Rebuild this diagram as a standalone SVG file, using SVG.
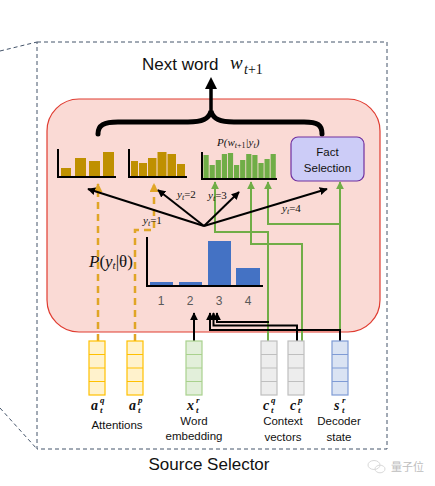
<svg xmlns="http://www.w3.org/2000/svg" width="435" height="486" viewBox="0 0 435 486">
<style>
.sans{font-family:"Liberation Sans","DejaVu Sans",sans-serif;}
.serif{font-family:"Liberation Serif","DejaVu Serif",serif;}
.mi{font-family:"Liberation Serif","DejaVu Serif",serif;font-style:italic;}
.mb{font-family:"Liberation Serif","DejaVu Serif",serif;font-style:italic;font-weight:bold;fill:#111;}
.lbl{font-family:"Liberation Sans","DejaVu Sans",sans-serif;font-size:11.5px;fill:#111;text-anchor:middle;}
.gold{fill:#BF9000;}
.green{fill:#70AD47;}
.blue{fill:#4472C4;}
.axis{stroke:#000;stroke-width:2;fill:none;}
.blk{stroke:#000;stroke-width:2;fill:none;}
.grn{stroke:#70AD47;stroke-width:2;fill:none;}
.gdash{stroke:#E0A526;stroke-width:2.5;fill:none;stroke-dasharray:7 5;}
.vecA{fill:#FFF2CC;stroke:#FFC000;stroke-width:1.2;}
.vecX{fill:#E2EFDA;stroke:#A9D18E;stroke-width:1.2;}
.vecC{fill:#EDEDED;stroke:#BFBFBF;stroke-width:1.2;}
.vecS{fill:#DAE3F3;stroke:#7F9BD5;stroke-width:1.2;}
</style>
<defs>
<marker id="ab" viewBox="0 0 10 10" refX="9" refY="5" markerWidth="8" markerHeight="8" markerUnits="userSpaceOnUse" orient="auto"><path d="M0,0 L10,5 L0,10 z" fill="#000"/></marker>
<marker id="ag" viewBox="0 0 10 10" refX="9" refY="5" markerWidth="8" markerHeight="8" markerUnits="userSpaceOnUse" orient="auto"><path d="M0,0 L10,5 L0,10 z" fill="#70AD47"/></marker>
<marker id="ay" viewBox="0 0 10 10" refX="9" refY="5" markerWidth="9" markerHeight="9" markerUnits="userSpaceOnUse" orient="auto"><path d="M0,0 L10,5 L0,10 z" fill="#E0A526"/></marker>
<g id="vec"><rect x="0" y="0" width="16" height="54"/><path d="M0,13.5 H16 M0,27 H16 M0,40.5 H16" fill="none"/></g>
</defs>

<!-- outer dashed frame -->
<g id="frame" fill="none" stroke="#44546A" stroke-width="1" stroke-dasharray="4 3">
<rect x="37" y="42" width="350" height="407"/>
<line x1="0" y1="51" x2="37" y2="42"/>
<line x1="0" y1="408" x2="37" y2="449"/>
</g>
<text class="sans" x="209" y="470" font-size="17" text-anchor="middle" fill="#111">Source Selector</text>

<!-- pink region -->
<g id="region"><rect x="47" y="99" width="333" height="233" rx="32" fill="#FADAD5" stroke="#E03C31" stroke-width="1.2"/></g>

<!-- next word -->
<g id="next-word">
<text class="sans" x="142" y="70" font-size="17" fill="#111">Next word</text>
<text class="mi" x="230" y="69" font-size="19" fill="#111">w</text>
<text class="serif" x="244" y="74" font-size="14" fill="#111"><tspan font-style="italic">t</tspan>+1</text>
</g>

<!-- brace and arrow -->
<g id="brace">
<path d="M98,134 C98,125 104,122 118,122 L188,122 C202,122 209,119 211,111 C213,119 220,122 234,122 L304,122 C318,122 322,125 322,134" fill="none" stroke="#000" stroke-width="5" stroke-linecap="round"/>
<line x1="211" y1="112" x2="211" y2="87" stroke="#000" stroke-width="3.5"/>
<polygon points="205,89 217,89 211,77" fill="#000"/>
</g>

<!-- chart 1 -->
<g id="chart1">
<rect class="gold" x="61" y="168" width="10" height="9"/>
<rect class="gold" x="75" y="158" width="11" height="19"/>
<rect class="gold" x="89" y="161" width="11" height="16"/>
<rect class="gold" x="103" y="152" width="11" height="25"/>
<path class="axis" d="M58,149 V177 H116"/>
</g>

<!-- chart 2 -->
<g id="chart2">
<rect class="gold" x="131" y="161" width="7" height="16"/>
<rect class="gold" x="139" y="163" width="8" height="14"/>
<rect class="gold" x="148" y="158" width="8.5" height="19"/>
<rect class="gold" x="157.5" y="152" width="9" height="25"/>
<rect class="gold" x="167.5" y="154" width="8.5" height="23"/>
<rect class="gold" x="177" y="164" width="8" height="13"/>
<path class="axis" d="M129,149 V177 H187"/>
</g>

<!-- chart 3 -->
<g id="chart3">
<text class="mi" x="217" y="146" font-size="11" fill="#111">P(w<tspan font-size="8" dy="2" font-style="normal"><tspan font-style="italic">t</tspan>+1</tspan><tspan dy="-2">|y</tspan><tspan font-size="8" dy="2">t</tspan><tspan dy="-2">)</tspan></text>
<rect class="green" x="203.5" y="155" width="5.2" height="23"/>
<rect class="green" x="209.6" y="165" width="5.2" height="13"/>
<rect class="green" x="215.7" y="160" width="5.2" height="18"/>
<rect class="green" x="221.8" y="154" width="5.2" height="24"/>
<rect class="green" x="227.9" y="153" width="5.2" height="25"/>
<rect class="green" x="234" y="165" width="5.2" height="13"/>
<rect class="green" x="240.1" y="160" width="5.2" height="18"/>
<rect class="green" x="246.2" y="154" width="5.2" height="24"/>
<rect class="green" x="252.3" y="155" width="5.2" height="23"/>
<rect class="green" x="258.4" y="163" width="5.2" height="15"/>
<rect class="green" x="264.5" y="159" width="5.2" height="19"/>
<rect class="green" x="270.6" y="154" width="5.2" height="24"/>
<path class="axis" d="M202,152 V179 H277"/>
</g>

<!-- fact selection -->
<g id="fact-selection">
<rect x="291" y="137" width="73" height="44" rx="7" fill="#CCCCF7" stroke="#7030A0" stroke-width="1.2"/>
<text class="sans" x="327.5" y="156" font-size="11.5" text-anchor="middle" fill="#111">Fact</text>
<text class="sans" x="327.5" y="172" font-size="11.5" text-anchor="middle" fill="#111">Selection</text>
</g>

<!-- blue chart -->
<g id="chart-p-y">
<text class="serif" x="89" y="267" font-size="17" fill="#111"><tspan font-style="italic">P</tspan>(<tspan font-style="italic">y</tspan><tspan font-size="11" dy="2" font-style="italic">t</tspan><tspan dy="-2">|θ)</tspan></text>
<rect class="blue" x="150" y="282" width="23" height="4"/>
<rect class="blue" x="179" y="282" width="23" height="4"/>
<rect class="blue" x="208" y="241" width="23" height="45"/>
<rect class="blue" x="236" y="268" width="24" height="18"/>
<path class="axis" d="M147,237 V286 H263"/>
<g class="sans" font-size="12" fill="#595959" text-anchor="middle">
<text x="161" y="305">1</text><text x="190" y="305">2</text><text x="219" y="305">3</text><text x="248" y="305">4</text>
</g>
</g>

<!-- connectors -->
<g id="connectors">
<path class="gdash" d="M98,341 V184" marker-end="url(#ay)"/>
<path class="gdash" d="M135,341 V230 H154 V184" marker-end="url(#ay)"/>
<path class="grn" d="M268,341 V232 H215 V182" marker-end="url(#ag)"/>
<path class="grn" d="M302,341 V244 H251 V182" marker-end="url(#ag)"/>
<path class="grn" d="M340,341 V182" marker-end="url(#ag)"/>
<path class="grn" d="M340,224 H268 V182" marker-end="url(#ag)"/>
<path class="blk" d="M194,341 V313" marker-end="url(#ab)"/>
<path class="blk" d="M340,341 V330 H210 V313" marker-end="url(#ab)"/>
<path class="blk" d="M297,341 V325.5 H213.5 V313" marker-end="url(#ab)"/>
<path class="blk" d="M269,322 H217 V313" marker-end="url(#ab)"/>
<path class="blk" d="M204,226 L88,189" marker-end="url(#ab)"/>
<path class="blk" d="M204,226 L158,190" marker-end="url(#ab)"/>
<path class="blk" d="M204,226 L239,192" marker-end="url(#ab)"/>
<path class="blk" d="M204,226 L327,189" marker-end="url(#ab)"/>
<g class="serif" font-size="11" fill="#111">
<text x="143" y="224"><tspan font-style="italic">y</tspan><tspan font-size="8" dy="2" font-style="italic">t</tspan><tspan dy="-2">=1</tspan></text>
<text x="177" y="198"><tspan font-style="italic">y</tspan><tspan font-size="8" dy="2" font-style="italic">t</tspan><tspan dy="-2">=2</tspan></text>
<text x="208" y="199"><tspan font-style="italic">y</tspan><tspan font-size="8" dy="2" font-style="italic">t</tspan><tspan dy="-2">=3</tspan></text>
<text x="282" y="212"><tspan font-style="italic">y</tspan><tspan font-size="8" dy="2" font-style="italic">t</tspan><tspan dy="-2">=4</tspan></text>
</g>
</g>

<!-- input vectors -->
<g id="a-q"><use href="#vec" class="vecA" x="89" y="341"/>
<text class="mb" x="91" y="410" font-size="14">a</text><text class="mb" x="100" y="403" font-size="9">q</text><text class="mb" x="100" y="413" font-size="9">t</text></g>
<g id="a-p"><use href="#vec" class="vecA" x="127" y="341"/>
<text class="mb" x="129" y="410" font-size="14">a</text><text class="mb" x="138" y="403" font-size="9">p</text><text class="mb" x="138" y="413" font-size="9">t</text></g>
<text class="lbl" x="117" y="429">Attentions</text>
<g id="x-r"><use href="#vec" class="vecX" x="186" y="341"/>
<text class="mb" x="187" y="410" font-size="14">x</text><text class="mb" x="196" y="403" font-size="9">r</text><text class="mb" x="196" y="413" font-size="9">t</text>
<text class="lbl" x="194" y="425">Word</text><text class="lbl" x="194" y="440">embedding</text></g>
<g id="c-q"><use href="#vec" class="vecC" x="261" y="341"/>
<text class="mb" x="263" y="410" font-size="14">c</text><text class="mb" x="271" y="403" font-size="9">q</text><text class="mb" x="271" y="413" font-size="9">t</text></g>
<g id="c-p"><use href="#vec" class="vecC" x="288" y="341"/>
<text class="mb" x="290" y="410" font-size="14">c</text><text class="mb" x="298" y="403" font-size="9">p</text><text class="mb" x="298" y="413" font-size="9">t</text></g>
<text class="lbl" x="283" y="425">Context</text><text class="lbl" x="283" y="441">vectors</text>
<g id="s-r"><use href="#vec" class="vecS" x="332" y="341"/>
<text class="mb" x="334" y="410" font-size="14">s</text><text class="mb" x="342" y="403" font-size="9">r</text><text class="mb" x="342" y="413" font-size="9">t</text>
<text class="lbl" x="339" y="425">Decoder</text><text class="lbl" x="339" y="441">state</text></g>

<!-- watermark -->
<g id="watermark" opacity="0.55">
<ellipse cx="374" cy="465" rx="6" ry="4.5" fill="none" stroke="#bbb" stroke-width="1"/>
<ellipse cx="380" cy="469" rx="5" ry="3.8" fill="none" stroke="#bbb" stroke-width="1"/>
<text x="391" y="471" font-size="11" fill="#888" font-family="'Noto Sans CJK SC',sans-serif">量子位</text>
</g>
</svg>
